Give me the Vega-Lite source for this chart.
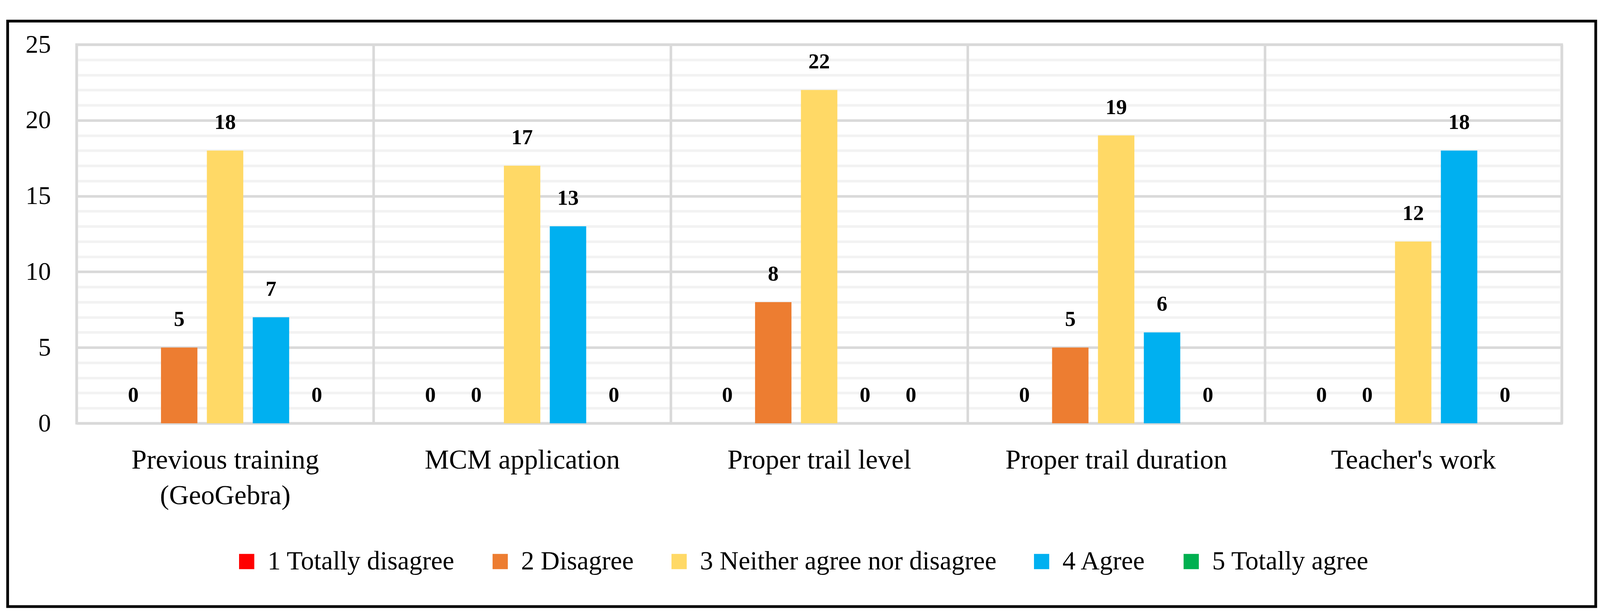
{
  "$schema": "https://vega.github.io/schema/vega-lite/v6.json",
  "width": 3802,
  "height": 969,
  "autosize": {"type": "none"},
  "padding": {"left": 196, "top": 114, "right": 112, "bottom": 488},
  "background": "white",
  "config": {
    "view": {"stroke": "#d9d9d9", "strokeWidth": 6.5},
    "font": "Liberation Serif"
  },
  "data": {
    "values": [
      {"item": "Previous training (GeoGebra)", "response": "1 Totally disagree", "count": 0},
      {"item": "Previous training (GeoGebra)", "response": "2 Disagree", "count": 5},
      {"item": "Previous training (GeoGebra)", "response": "3 Neither agree nor disagree", "count": 18},
      {"item": "Previous training (GeoGebra)", "response": "4 Agree", "count": 7},
      {"item": "Previous training (GeoGebra)", "response": "5 Totally agree", "count": 0},
      {"item": "MCM application", "response": "1 Totally disagree", "count": 0},
      {"item": "MCM application", "response": "2 Disagree", "count": 0},
      {"item": "MCM application", "response": "3 Neither agree nor disagree", "count": 17},
      {"item": "MCM application", "response": "4 Agree", "count": 13},
      {"item": "MCM application", "response": "5 Totally agree", "count": 0},
      {"item": "Proper trail level", "response": "1 Totally disagree", "count": 0},
      {"item": "Proper trail level", "response": "2 Disagree", "count": 8},
      {"item": "Proper trail level", "response": "3 Neither agree nor disagree", "count": 22},
      {"item": "Proper trail level", "response": "4 Agree", "count": 0},
      {"item": "Proper trail level", "response": "5 Totally agree", "count": 0},
      {"item": "Proper trail duration", "response": "1 Totally disagree", "count": 0},
      {"item": "Proper trail duration", "response": "2 Disagree", "count": 5},
      {"item": "Proper trail duration", "response": "3 Neither agree nor disagree", "count": 19},
      {"item": "Proper trail duration", "response": "4 Agree", "count": 6},
      {"item": "Proper trail duration", "response": "5 Totally agree", "count": 0},
      {"item": "Teacher's work", "response": "1 Totally disagree", "count": 0},
      {"item": "Teacher's work", "response": "2 Disagree", "count": 0},
      {"item": "Teacher's work", "response": "3 Neither agree nor disagree", "count": 12},
      {"item": "Teacher's work", "response": "4 Agree", "count": 18},
      {"item": "Teacher's work", "response": "5 Totally agree", "count": 0}
    ]
  },
  "resolve": {"scale": {"x": "independent", "y": "independent"}},
  "layer": [
    {
      "encoding": {
        "x": {
          "field": "item",
          "type": "nominal",
          "sort": ["Previous training (GeoGebra)", "MCM application", "Proper trail level", "Proper trail duration", "Teacher's work"],
          "scale": {"paddingInner": 0, "paddingOuter": 0},
          "axis": {
            "title": null,
            "grid": true,
            "tickBand": "extent",
            "gridColor": "#d9d9d9",
            "gridWidth": 6.5,
            "ticks": false,
            "domain": false,
            "labelAngle": 0,
            "labelFont": "Liberation Serif",
            "labelFontSize": 70,
            "labelColor": "black",
            "labelPadding": 60,
            "labelLineHeight": 91,
            "labelLimit": 0,
            "zindex": 1,
            "labelExpr": "datum.value === 'Previous training (GeoGebra)' ? ['Previous training', '(GeoGebra)'] : datum.label"
          }
        },
        "xOffset": {
          "field": "response",
          "type": "nominal",
          "sort": ["1 Totally disagree", "2 Disagree", "3 Neither agree nor disagree", "4 Agree", "5 Totally agree"],
          "scale": {"paddingInner": 0.2063, "paddingOuter": 0.84}
        },
        "y": {
          "field": "count",
          "type": "quantitative",
          "scale": {"domain": [0, 25], "nice": false},
          "axis": {
            "title": null,
            "values": [0, 1, 2, 3, 4, 5, 6, 7, 8, 9, 10, 11, 12, 13, 14, 15, 16, 17, 18, 19, 20, 21, 22, 23, 24, 25],
            "labelExpr": "datum.value % 5 === 0 ? datum.label : ''",
            "gridColor": {"condition": {"test": "datum.value % 5 === 0", "value": "#d9d9d9"}, "value": "#f2f2f2"},
            "gridWidth": 6.5,
            "ticks": false,
            "domain": false,
            "labelFont": "Liberation Serif",
            "labelFontSize": 65,
            "labelColor": "black",
            "labelPadding": 66
          }
        }
      },
      "layer": [
        {
          "mark": {"type": "bar"},
          "encoding": {
            "color": {
              "field": "response",
              "type": "nominal",
              "scale": {
                "domain": ["1 Totally disagree", "2 Disagree", "3 Neither agree nor disagree", "4 Agree", "5 Totally agree"],
                "range": ["#ff0000", "#ed7d31", "#ffd966", "#00b0f0", "#00b050"]
              },
              "legend": {
                "title": null,
                "orient": "none",
                "legendX": 402,
                "legendY": 1289,
                "direction": "horizontal",
                "columns": 5,
                "symbolType": "square",
                "symbolSize": 1521,
                "symbolStrokeWidth": 0,
                "labelFont": "Liberation Serif",
                "labelFontSize": 67,
                "labelLimit": 0,
                "labelColor": "black",
                "labelOffset": 20,
                "columnPadding": 82,
                "padding": 0
              }
            }
          }
        },
        {
          "mark": {"type": "text", "font": "Liberation Serif", "fontWeight": "bold", "fontSize": 55, "color": "black", "baseline": "middle", "dy": -72},
          "encoding": {"text": {"field": "count", "type": "quantitative"}}
        }
      ]
    },
    {
      "data": {"values": [{}]},
      "mark": {"type": "rect", "fill": null, "stroke": "black", "strokeWidth": 7, "clip": false},
      "encoding": {
        "x": {"datum": -0.0464, "type": "quantitative", "scale": {"domain": [0, 1], "nice": false, "zero": false}, "axis": null},
        "x2": {"datum": 1.0229},
        "y": {"datum": 1.0619, "type": "quantitative", "scale": {"domain": [0, 1], "nice": false, "zero": false}, "axis": null},
        "y2": {"datum": -0.484}
      }
    }
  ]
}
